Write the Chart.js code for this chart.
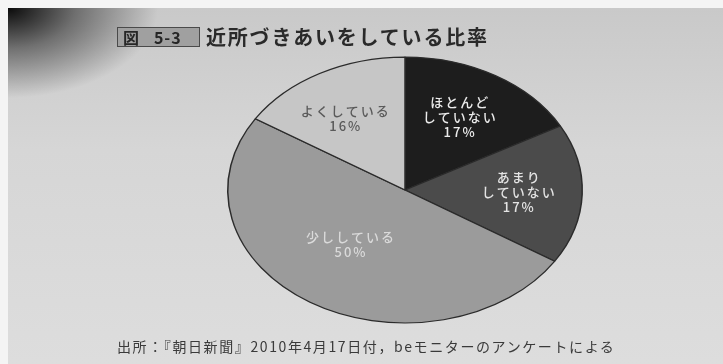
<!DOCTYPE html>
<html lang="ja">
<head>
<meta charset="utf-8">
<script src="https://cdn.jsdelivr.net/npm/chart.js@4"></script>
<style>
  html, body { margin: 0; padding: 0; background: #f4f4f4; }
  body { width: 723px; height: 364px; overflow: hidden; position: relative; font-family: "Noto Sans CJK JP", "Noto Sans", sans-serif; }
  .page {
    position: absolute; left: 8px; top: 8px; right: 0; bottom: 0;
    background:
      radial-gradient(ellipse 150px 90px at 0 0, rgba(0,0,0,0.95), rgba(0,0,0,0.45) 45%, rgba(0,0,0,0) 100%),
      linear-gradient(180deg, #c9c9c9 0%, #d6d6d6 40%, #dddddd 100%);
  }
  #chartWrap { position: absolute; left: 0; top: 0; width: 723px; height: 364px; }
  .fig-title { position: absolute; left: 117px; top: 22px; display: flex; align-items: center; }
  .fig-title__box {
    box-sizing: border-box; width: 83px; height: 20px;
    background: #a0a0a0; border: 1px solid #4a4a4a; color: #262626;
    font-weight: bold; font-size: 16px; line-height: 18px; padding-left: 5px; letter-spacing: 1px; white-space: pre;
  }
  .fig-title__text { margin-left: 6px; font-size: 20px; font-weight: bold; color: #2a2a2a; letter-spacing: 1.8px; }
  .fig-source { position: absolute; left: 117px; top: 336px; font-size: 14px; color: #3a3a3a; white-space: nowrap; letter-spacing: 1.6px; }
</style>
</head>
<body>
<div class="page"></div>
<div id="chartWrap"><canvas id="pieChart"></canvas></div>
<div class="fig-title">
  <span class="fig-title__box">図   5-3</span>
  <span class="fig-title__text">近所づきあいをしている比率</span>
</div>
<div class="fig-source">出所：『朝日新聞』2010年4月17日付，beモニターのアンケートによる</div>
<script>
const categories = [['ほとんど', 'していない'], ['あまり', 'していない'], ['少ししている'], ['よくしている']];
const percents = [17, 17, 50, 16];
const sliceColors = ['#1d1d1d', '#4b4b4b', '#9b9b9b', '#c6c6c6'];
const labelColors = ['#ececec', '#e4e4e4', '#dadada', '#5a5a5a'];
const labelNudges = [[0, -4], [7, 0], [2, -13], [-9, -2]];

// pie is drawn as a circle, then squashed into the tilted ellipse of the book figure
const ELLIPSE_CX = 405, ELLIPSE_CY = 190, SQUASH = 0.75;

const ellipsePlugin = {
    id: 'ellipse',
    beforeDatasetsDraw(chart) {
        const arc = chart.getDatasetMeta(0).data[0];
        const ctx = chart.ctx;
        ctx.save();
        ctx.translate(ELLIPSE_CX, ELLIPSE_CY);
        ctx.scale(1, SQUASH);
        ctx.translate(-arc.x, -arc.y);
    },
    afterDatasetsDraw(chart) {
        const ctx = chart.ctx;
        ctx.restore();

        const meta = chart.getDatasetMeta(0);
        ctx.save();
        ctx.font = '500 13px "Noto Sans CJK JP", sans-serif';
        ctx.letterSpacing = '2px';
        ctx.textAlign = 'center';
        ctx.textBaseline = 'middle';
        meta.data.forEach((arc, i) => {
            const mid = (arc.startAngle + arc.endAngle) / 2;
            const r = arc.outerRadius * 0.6;
            const x = ELLIPSE_CX + Math.cos(mid) * r + labelNudges[i][0];
            const y = ELLIPSE_CY + Math.sin(mid) * r * SQUASH + labelNudges[i][1];
            const lines = [...categories[i], percents[i] + '%'];
            ctx.fillStyle = labelColors[i];
            lines.forEach((line, j) => {
                ctx.fillText(line, x + 1, y + (j - (lines.length - 1) / 2) * 15);
            });
        });
        ctx.restore();
    }
};

new Chart(document.getElementById('pieChart'), {
    type: 'pie',
    data: {
        labels: categories.map(c => c.join('')),
        datasets: [{
            data: percents,
            backgroundColor: sliceColors,
            borderColor: '#2b2b2b',
            borderWidth: 1.5
        }]
    },
    options: {
        responsive: true,
        maintainAspectRatio: false,
        animation: false,
        layout: { padding: { left: 227, right: 140, top: 4, bottom: 4 } },
        plugins: { legend: { display: false }, tooltip: { enabled: false } }
    },
    plugins: [ellipsePlugin]
});
</script>
</body>
</html>
